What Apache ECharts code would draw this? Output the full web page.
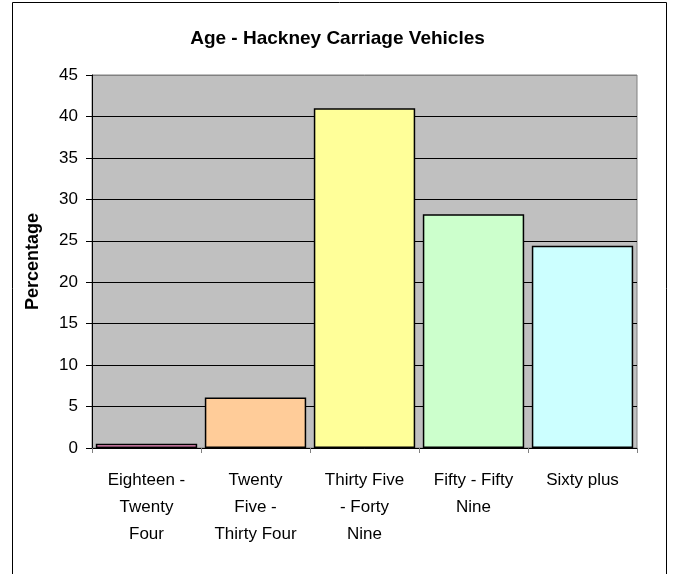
<!DOCTYPE html>
<html>
<head>
<meta charset="utf-8">
<script src="https://cdn.jsdelivr.net/npm/echarts@6/dist/echarts.min.js"></script>
<style>
html,body{margin:0;padding:0;background:#fff;}
#c{width:675px;height:574px;}
</style>
</head>
<body>
<div id="c"></div>
<script>
const categories = ["Eighteen -\nTwenty\nFour", "Twenty\nFive -\nThirty Four", "Thirty Five\n- Forty\nNine", "Fifty - Fifty\nNine", "Sixty plus"];
const values = [0.5, 6.1, 41.0, 28.2, 24.4];
const barColors = ["#FF99CC", "#FFCC99", "#FFFF99", "#CCFFCC", "#CCFFFF"];
const titleText = "Age - Hackney Carriage Vehicles";
const yAxisName = "Percentage";

const chart = echarts.init(document.getElementById('c'), null, {renderer: 'canvas'});
const font = "'Liberation Sans', Arial, sans-serif";
chart.setOption({
  animation: false,
  backgroundColor: '#ffffff',
  graphic: [{
    type: 'rect',
    shape: {x: 12.5, y: 2.5, width: 654, height: 600},
    style: {fill: 'none', stroke: '#000', lineWidth: 1},
    z: -1
  }],
  title: {
    text: titleText,
    left: 'center',
    top: 24,
    textStyle: {fontFamily: font, fontSize: 19, fontWeight: 'bold', color: '#000'}
  },
  grid: {
    left: 92, top: 75, right: 38, bottom: 126,
    show: true, backgroundColor: '#C0C0C0', borderColor: '#808080', borderWidth: 1
  },
  xAxis: {
    type: 'category',
    data: categories,
    axisLine: {lineStyle: {color: '#000', width: 1}},
    axisTick: {show: true, length: 5, lineStyle: {color: '#808080'}},
    axisLabel: {
      interval: 0, margin: 19, color: '#000',
      fontFamily: font, fontSize: 17, lineHeight: 27
    }
  },
  yAxis: {
    type: 'value',
    min: 0, max: 45, interval: 5,
    name: yAxisName,
    nameLocation: 'middle',
    nameRotate: 90,
    nameGap: 50,
    nameTextStyle: {fontFamily: font, fontSize: 18, fontWeight: 'bold', color: '#000'},
    axisLine: {show: true, lineStyle: {color: '#000', width: 1}},
    axisTick: {show: true, length: 6, lineStyle: {color: '#000'}},
    axisLabel: {margin: 14, color: '#000', fontFamily: font, fontSize: 17},
    splitLine: {show: true, lineStyle: {color: ['#000','#000','#000','#000','#000','#000','#000','#000','#000','#808080'], width: 1}}
  },
  series: [{
    type: 'bar',
    data: values.map((v, i) => ({value: v, itemStyle: {color: barColors[i]}})),
    barCategoryGap: '7%',
    itemStyle: {borderColor: '#000', borderWidth: 1.5}
  }]
});
</script>
</body>
</html>
